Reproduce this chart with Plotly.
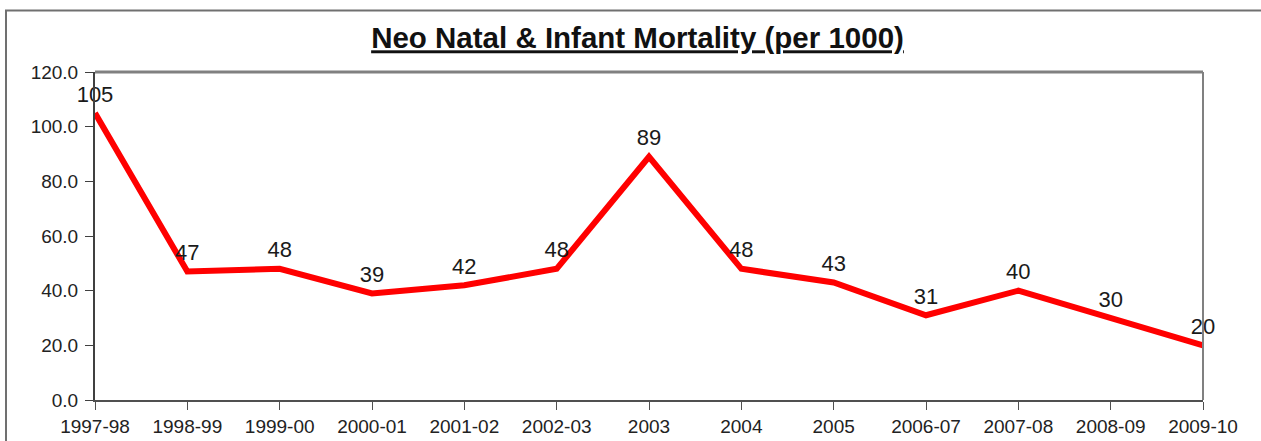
import plotly.graph_objects as go

years = ["1997-98", "1998-99", "1999-00", "2000-01", "2001-02", "2002-03", "2003",
         "2004", "2005", "2006-07", "2007-08", "2008-09", "2009-10"]
mortality = [105, 47, 48, 39, 42, 48, 89, 48, 43, 31, 40, 30, 20]
y_ticks = [0, 20, 40, 60, 80, 100, 120]

W, H = 1261, 441
L, R, T, B = 95, 58, 72, 41
pw, ph = W - L - R, H - T - B

def px(x):
    return (x - L) / pw

def py(y):
    return (H - B - y) / ph

FONT = "Liberation Sans, Arial, sans-serif"

fig = go.Figure()
fig.add_trace(go.Scatter(
    x=years, y=mortality, mode="lines+markers+text",
    line=dict(color="#ff0000", width=6),
    marker=dict(size=8, color="rgba(0,0,0,0)"),
    text=[str(v) for v in mortality], textposition="top center",
    textfont=dict(family=FONT, size=22, color="#1a1a1a"),
    cliponaxis=False, hoverinfo="skip",
))

fig.update_layout(
    width=W, height=H,
    margin=dict(l=L, r=R, t=T, b=B, autoexpand=False),
    paper_bgcolor="white", plot_bgcolor="white",
    showlegend=False,
    title=dict(text="<b><u>Neo Natal &amp; Infant Mortality (per 1000)</u></b>",
               x=637.5 / W, xref="container", xanchor="center",
               y=1 - 38 / H, yref="container", yanchor="middle",
               font=dict(family=FONT, size=29.5, color="#111111")),
    xaxis=dict(type="category", range=[0, len(years) - 1], automargin=False,
               showgrid=False, zeroline=False,
               showline=True, linecolor="#505050", linewidth=2,
               ticks="outside", ticklen=8, tickwidth=1, tickcolor="#505050",
               tickfont=dict(family=FONT, size=19, color="#222222")),
    yaxis=dict(range=[0, 120], tickvals=y_ticks, tickformat=".1f", automargin=False,
               showgrid=False, zeroline=False,
               showline=True, linecolor="#404040", linewidth=2,
               ticks="outside", ticklen=8, tickwidth=1, tickcolor="#404040",
               ticklabelstandoff=3,
               tickfont=dict(family=FONT, size=19, color="#222222")),
    shapes=[
        dict(type="rect", xref="paper", yref="paper",
             x0=px(6), x1=px(1275), y0=py(10.5), y1=py(460),
             line=dict(color="#707070", width=2), layer="below"),
        dict(type="line", xref="paper", yref="paper", x0=0, x1=1, y0=1, y1=1,
             line=dict(color="#808080", width=3)),
        dict(type="line", xref="paper", yref="paper", x0=1, x1=1, y0=0, y1=1,
             line=dict(color="#808080", width=2)),
    ],
)

fig.write_html("out.html", config={"displayModeBar": False},
               post_script="document.body.style.margin='0';")
